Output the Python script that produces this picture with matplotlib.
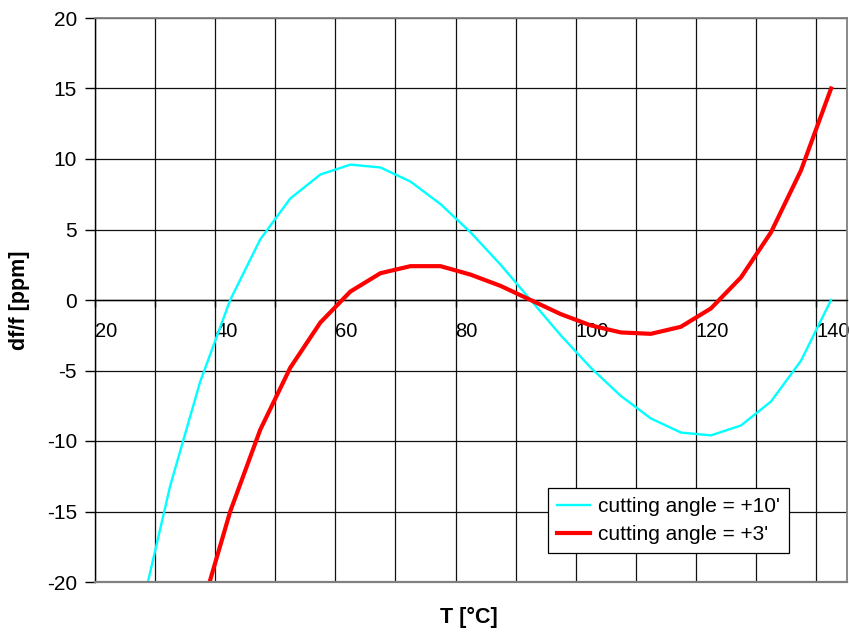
import matplotlib
matplotlib.use("Agg")
import matplotlib.pyplot as plt
from matplotlib.ticker import MultipleLocator

plt.rcParams['font.family'] = ['Liberation Sans', 'DejaVu Sans']
plt.rcParams['axes.unicode_minus'] = False

# Data
T = [27.5, 32.5, 37.5, 42.5, 47.5, 52.5, 57.5, 62.5, 67.5, 72.5, 77.5, 82.5,
     87.5, 92.5, 97.5, 102.5, 107.5, 112.5, 117.5, 122.5, 127.5, 132.5, 137.5, 142.5]
angle_10 = [-22.4, -13.2, -5.8, 0.0, 4.3, 7.2, 8.9, 9.6, 9.4, 8.4, 6.8, 4.8,
            2.5, 0.0, -2.5, -4.8, -6.8, -8.4, -9.4, -9.6, -8.9, -7.2, -4.3, 0.0]
angle_3 = [-41.9, -31.2, -22.3, -15.0, -9.2, -4.8, -1.6, 0.6, 1.9, 2.4, 2.4, 1.8,
           1.0, 0.0, -1.0, -1.8, -2.3, -2.4, -1.9, -0.6, 1.6, 4.8, 9.2, 15.0]
labels = ["cutting angle = +10'", "cutting angle = +3'"]
x_ticks = [20, 40, 60, 80, 100, 120, 140]
y_ticks = [-20, -15, -10, -5, 0, 5, 10, 15, 20]

fig = plt.figure(figsize=(8.49, 6.34), dpi=100)
ax = fig.add_axes([95/849, 1-582/634, (846.7-95)/849, (582-18)/634])

ax.plot(T, angle_10, color='#00FFFF', lw=1.7, label=labels[0], zorder=3)
ax.plot(T, angle_3, color='#FF0000', lw=3.0, label=labels[1], zorder=4)

ax.set_xlim(20, 145.1)
ax.set_ylim(-20, 20)
ax.set_xticks(x_ticks)
ax.xaxis.set_minor_locator(MultipleLocator(10))
ax.set_yticks(y_ticks)

ax.grid(True, which='both', color='#111111', lw=0.9)
ax.set_axisbelow(True)

for s in ['top', 'right']:
    ax.spines[s].set_color('#808080')
    ax.spines[s].set_linewidth(1.3)
ax.spines['left'].set_color('black')
ax.spines['left'].set_linewidth(1.0)
ax.spines['bottom'].set_position(('data', 0))
ax.spines['bottom'].set_color('black')
ax.spines['bottom'].set_linewidth(1.0)
ax.plot([0, 1], [0, 0], transform=ax.transAxes, color='#808080', lw=1.6,
        clip_on=False, zorder=5)

ax.tick_params(axis='y', which='major', direction='out', length=7, width=1,
               pad=6, labelsize=15)
ax.tick_params(axis='x', which='both', direction='out', length=5, width=1,
               pad=11, labelsize=14.5)
for lab in ax.get_xticklabels():
    lab.set_horizontalalignment('left')

fig.text(20/849, 1-300/634, 'df/f [ppm]', rotation=90, ha='center', va='center',
         fontsize=15.5, fontweight='bold')
fig.text(469/849, 1-617/634, 'T [°C]', ha='center', va='center',
         fontsize=15.5, fontweight='bold')

leg = ax.legend(loc='lower left', bbox_to_anchor=((548-95)/(846.7-95), (582-553)/564),
                fontsize=15, frameon=True, fancybox=False, edgecolor='black',
                framealpha=1, borderpad=0.42, handlelength=1.6, handletextpad=0.4,
                labelspacing=0.45, borderaxespad=0)
leg.get_frame().set_linewidth(0.9)

fig.savefig('out.png', dpi=100)
